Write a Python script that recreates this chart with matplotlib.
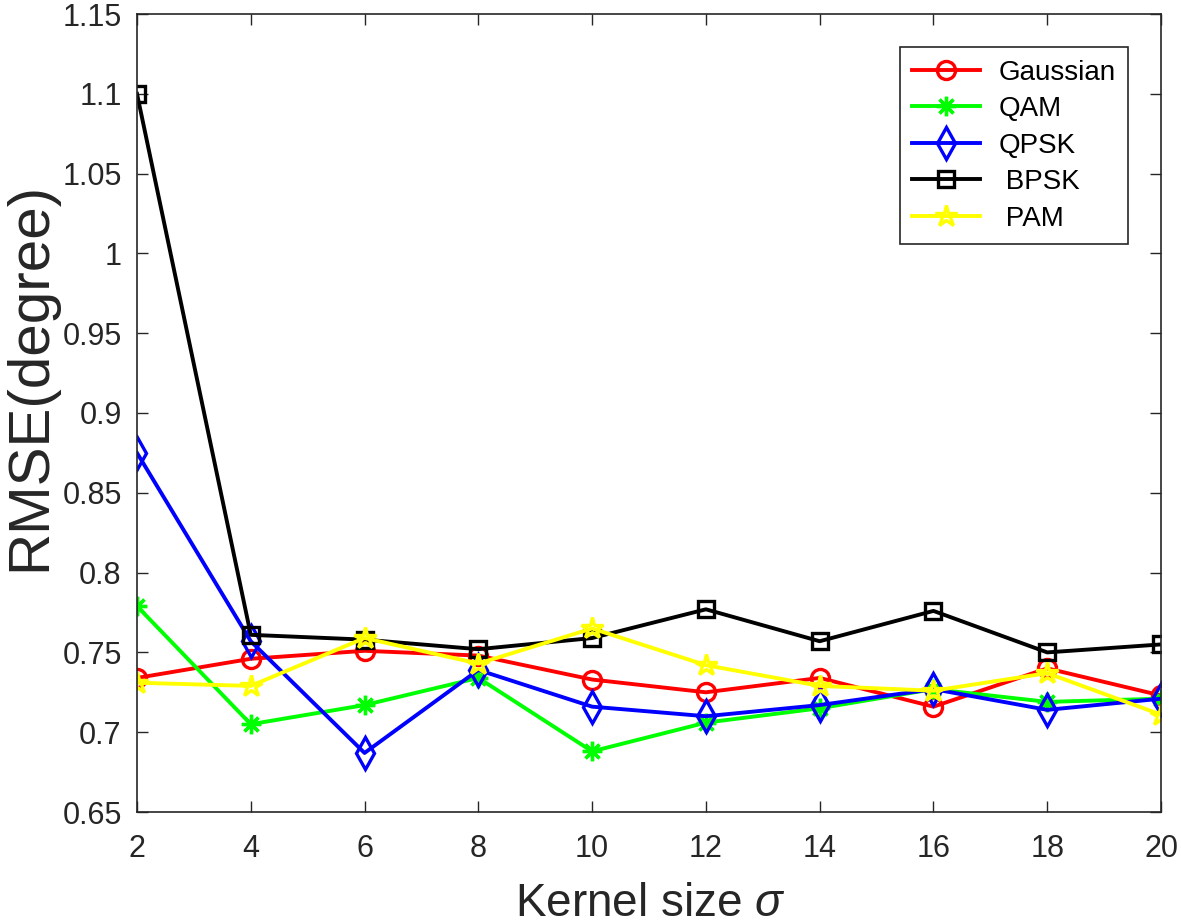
import matplotlib
matplotlib.use("Agg")
import matplotlib.pyplot as plt
from matplotlib.ticker import FuncFormatter

plt.rcParams['font.family'] = ['Liberation Sans', 'DejaVu Sans']
plt.rcParams['mathtext.fontset'] = 'custom'
plt.rcParams['mathtext.it'] = 'Liberation Sans:italic'
plt.rcParams['mathtext.rm'] = 'Liberation Sans'

sigma = [2, 4, 6, 8, 10, 12, 14, 16, 18, 20]
gaussian = [0.734, 0.746, 0.751, 0.748, 0.733, 0.725, 0.734, 0.716, 0.740, 0.723]
qam = [0.779, 0.705, 0.717, 0.734, 0.688, 0.706, 0.715, 0.727, 0.719, 0.721]
qpsk = [0.875, 0.757, 0.687, 0.739, 0.716, 0.710, 0.717, 0.727, 0.714, 0.721]
bpsk = [1.100, 0.761, 0.758, 0.752, 0.759, 0.777, 0.757, 0.776, 0.750, 0.755]
pam = [0.731, 0.729, 0.759, 0.743, 0.765, 0.742, 0.729, 0.726, 0.737, 0.711]
labels = ['Gaussian', 'QAM', 'QPSK', ' BPSK', ' PAM']
yticks = [0.65, 0.7, 0.75, 0.8, 0.85, 0.9, 0.95, 1.0, 1.05, 1.1, 1.15]

W, H = 1181, 924
fig = plt.figure(figsize=(W / 100, H / 100), dpi=100)
L, R, T, B = 137, 1161, 14, 812
ax = fig.add_axes([L / W, (H - B) / H, (R - L) / W, (B - T) / H])

lw = 2.8
mew = 2.4
ax.plot(sigma, gaussian, color='#ff0000', marker='o', mfc='none', ms=13, mew=mew, lw=lw, label=labels[0])
ax.plot(sigma, qam, color='#00ff00', marker=(8, 2, 0), ms=14, mew=mew, lw=lw, label=labels[1])
ax.plot(sigma, qpsk, color='#0000ff', marker='d', mfc='none', ms=16, mew=mew, lw=lw, label=labels[2])
ax.plot(sigma, bpsk, color='#000000', marker='s', mfc='none', ms=11, mew=mew, lw=lw, label=labels[3])
ax.plot(sigma, pam, color='#ffff00', marker='*', mfc='none', ms=16, mew=mew, lw=lw, label=labels[4])

ax.set_xlim(2, 20)
ax.set_ylim(0.65, 1.15)
ax.set_xticks(sigma)
ax.set_yticks(yticks)
ax.yaxis.set_major_formatter(FuncFormatter(lambda v, p: ('%.2f' % v).rstrip('0').rstrip('.')))
ax.tick_params(direction='in', length=8, width=1, labelsize=22, colors='#262626',
               top=True, right=True)
ax.tick_params(axis='x', pad=16)
ax.tick_params(axis='y', pad=11)
for s in ax.spines.values():
    s.set_color('#262626')
    s.set_linewidth(1.2)

fig.text(650 / W, (H - 916) / H, r'Kernel size $\sigma$', fontsize=33, color='#262626',
         ha='center', va='baseline')
fig.text(30 / W, (H - 376) / H, 'RMSE(degree)', fontsize=42, color='#262626',
         ha='center', va='center', rotation=90)

leg = ax.legend(loc='upper right', bbox_to_anchor=((1128 - L) / (R - L), (B - 47) / (B - T)),
                borderaxespad=0, fontsize=20, handlelength=2.45, labelspacing=0.38,
                borderpad=0.45, fancybox=False, framealpha=1, edgecolor='#262626',
                handletextpad=0.65)
leg.get_frame().set_linewidth(1.2)

fig.savefig('out.png', dpi=100)
